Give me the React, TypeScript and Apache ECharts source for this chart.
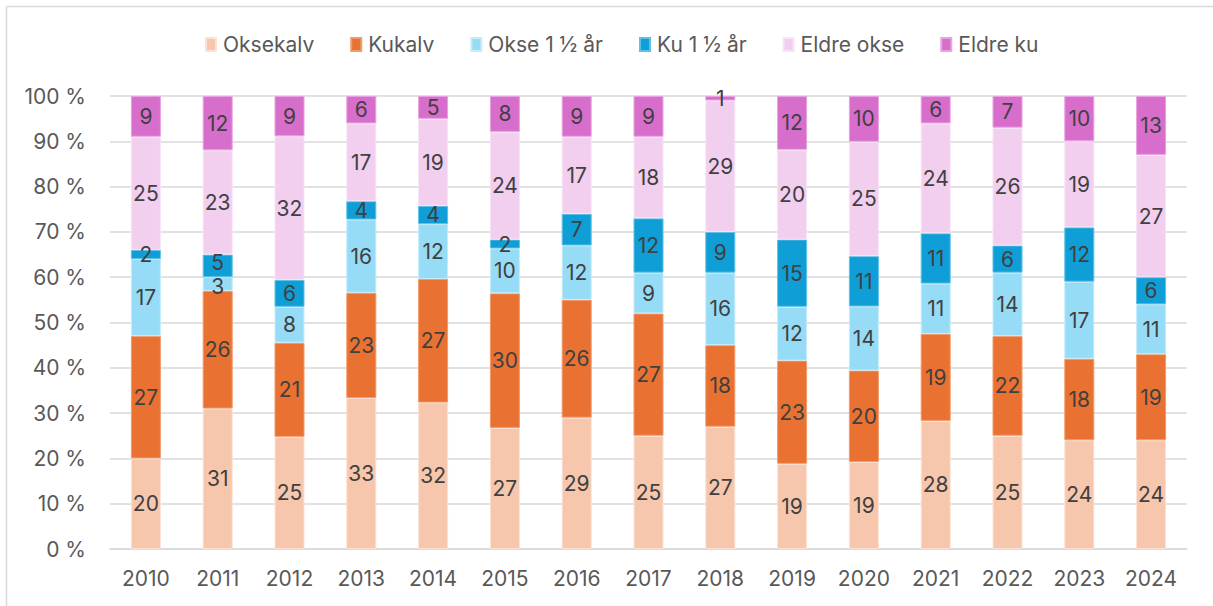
import React, { useEffect, useRef } from "react";
import * as echarts from "echarts";

const years = ["2010","2011","2012","2013","2014","2015","2016","2017","2018","2019","2020","2021","2022","2023","2024"];
const seriesNames = ["Oksekalv", "Kukalv", "Okse 1 ½ år", "Ku 1 ½ år", "Eldre okse", "Eldre ku"];
const oksekalv = [20, 31, 25, 33, 32, 27, 29, 25, 27, 19, 19, 28, 25, 24, 24];
const kukalv = [27, 26, 21, 23, 27, 30, 26, 27, 18, 23, 20, 19, 22, 18, 19];
const okse15 = [17, 3, 8, 16, 12, 10, 12, 9, 16, 12, 14, 11, 14, 17, 11];
const ku15 = [2, 5, 6, 4, 4, 2, 7, 12, 9, 15, 11, 11, 6, 12, 6];
const eldreOkse = [25, 23, 32, 17, 19, 24, 17, 18, 29, 20, 25, 24, 26, 19, 27];
const eldreKu = [9, 12, 9, 6, 5, 8, 9, 9, 1, 12, 10, 6, 7, 10, 13];
const colors = ["#F6C6AD", "#E97132", "#97DCF7", "#0F9ED5", "#F2CEEF", "#D86ECC"];
const borderColors = ["#FBE2D5", "#F19A6C", "#C6ECFA", "#5DC0E6", "#F8E4F6", "#E8A2DF"];
const yTicks = { min: 0, max: 100, interval: 10 };

const allSeries = [oksekalv, kukalv, okse15, ku15, eldreOkse, eldreKu];

export default function App() {
  const ref = useRef<HTMLDivElement>(null);
  useEffect(() => {
    document.body.style.margin = "0";
    const chart = echarts.init(ref.current!, null, { renderer: "svg" });
    const totals = years.map((_, i) => allSeries.reduce((s, arr) => s + arr[i], 0));
    const font = "Inter, 'Noto Sans', sans-serif";
    chart.setOption({
      animation: false,
      backgroundColor: "#ffffff",
      color: colors,
      textStyle: { fontFamily: font },
      legend: {
        top: 29,
        left: 200,
        itemWidth: 10,
        itemHeight: 13,
        itemGap: 36,
        icon: "rect",
        textStyle: { fontSize: 21, color: "#595959", fontFamily: font, padding: [0, 0, 0, 2] },
        data: seriesNames,
      },
      grid: { left: 110, right: 26, top: 96, bottom: 57 },
      xAxis: {
        type: "category",
        data: years,
        axisLine: { show: true, lineStyle: { color: "#D9D9D9", width: 1.5 } },
        axisTick: { show: false },
        axisLabel: { fontSize: 21, color: "#595959", margin: 19, fontFamily: font },
      },
      yAxis: {
        type: "value",
        min: yTicks.min,
        max: yTicks.max,
        interval: yTicks.interval,
        axisLine: { show: false },
        axisTick: { show: false },
        splitLine: { lineStyle: { color: "#D9D9D9", width: 1.5 } },
        axisLabel: { fontSize: 21, color: "#595959", margin: 24, formatter: "{value} %", fontFamily: font },
      },
      series: seriesNames.map((name, si) => ({
        name,
        type: "bar",
        stack: "total",
        barWidth: 30,
        data: allSeries[si].map((v, i) => {
          const item: any = { value: (v / totals[i]) * 100 };
          // nudge the two crowded 2011 labels apart, as in the reference
          if (i === 1 && si === 2) item.label = { offset: [0, 3] };
          if (i === 1 && si === 3) item.label = { offset: [0, -3] };
          return item;
        }),
        itemStyle: { color: colors[si], borderColor: borderColors[si], borderWidth: 1 },
        label: {
          show: true,
          position: "inside",
          fontSize: 21,
          lineHeight: 16,
          color: "#404040",
          fontFamily: font,
          formatter: (p: any) => String(allSeries[si][p.dataIndex]),
        },
      })),
      graphic: [
        { type: "line", shape: { x1: 6.5, y1: 6.5, x2: 1213, y2: 6.5 }, style: { stroke: "#D9D9D9", lineWidth: 1.5 } },
        { type: "line", shape: { x1: 6.5, y1: 6.5, x2: 6.5, y2: 606 }, style: { stroke: "#D9D9D9", lineWidth: 1.5 } },
      ],
    });
    return () => chart.dispose();
  }, []);
  return <div ref={ref} style={{ width: 1213, height: 606 }} />;
}
